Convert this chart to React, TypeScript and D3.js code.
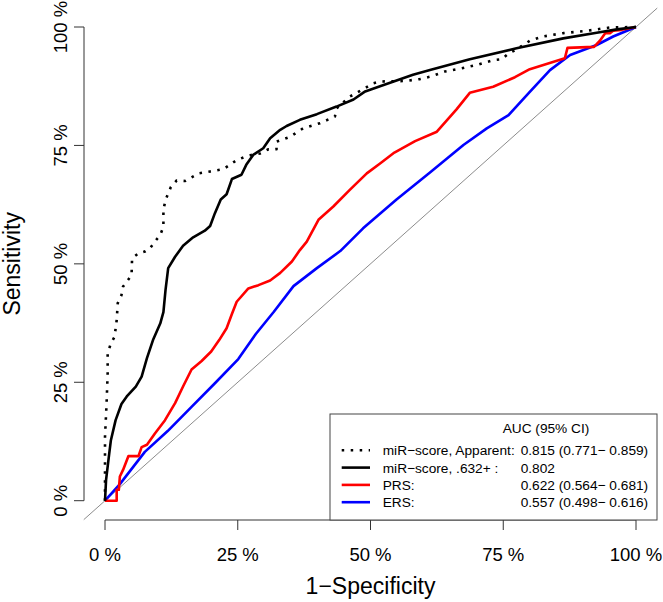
import React from "react";
import * as d3 from "d3";

// ---- Data ----
const apparentFpr = [0, 0, 0.003, 0.005, 0.005, 0.011, 0.018, 0.022, 0.024, 0.031, 0.034, 0.05, 0.051, 0.063, 0.075, 0.085, 0.094, 0.104, 0.11, 0.11, 0.114, 0.124, 0.135, 0.151, 0.176, 0.198, 0.223, 0.235, 0.248, 0.264, 0.279, 0.292, 0.308, 0.323, 0.323, 0.348, 0.373, 0.405, 0.433, 0.436, 0.449, 0.461, 0.477, 0.49, 0.505, 0.518, 0.565, 0.593, 0.612, 0.64, 0.672, 0.7, 0.731, 0.747, 0.76, 0.772, 0.785, 0.8, 0.825, 0.863, 0.907, 0.951, 1];
const apparentTpr = [0, 0.135, 0.206, 0.269, 0.311, 0.332, 0.346, 0.381, 0.417, 0.434, 0.452, 0.476, 0.512, 0.522, 0.526, 0.533, 0.547, 0.561, 0.578, 0.614, 0.635, 0.662, 0.676, 0.675, 0.691, 0.695, 0.7, 0.709, 0.719, 0.726, 0.731, 0.733, 0.742, 0.742, 0.758, 0.768, 0.786, 0.797, 0.811, 0.828, 0.841, 0.853, 0.863, 0.871, 0.881, 0.885, 0.886, 0.89, 0.895, 0.906, 0.913, 0.92, 0.93, 0.932, 0.944, 0.951, 0.96, 0.971, 0.98, 0.987, 0.992, 0.999, 1];

const boot632Fpr = [0, 0.002, 0.005, 0.008, 0.011, 0.02, 0.031, 0.041, 0.058, 0.069, 0.079, 0.091, 0.104, 0.11, 0.114, 0.119, 0.132, 0.147, 0.166, 0.188, 0.198, 0.207, 0.218, 0.229, 0.239, 0.257, 0.266, 0.279, 0.298, 0.311, 0.33, 0.342, 0.367, 0.399, 0.436, 0.468, 0.49, 0.518, 0.549, 0.58, 0.612, 0.687, 0.775, 0.863, 0.926, 0.964, 1];
const boot632Tpr = [0, 0.044, 0.072, 0.1, 0.127, 0.17, 0.204, 0.22, 0.241, 0.262, 0.301, 0.341, 0.374, 0.398, 0.445, 0.491, 0.515, 0.538, 0.556, 0.57, 0.58, 0.607, 0.636, 0.647, 0.679, 0.688, 0.709, 0.73, 0.744, 0.765, 0.783, 0.791, 0.804, 0.816, 0.832, 0.847, 0.864, 0.875, 0.887, 0.899, 0.909, 0.932, 0.955, 0.976, 0.988, 0.995, 1];

const prsFpr = [0, 0.022, 0.022, 0.026, 0.028, 0.034, 0.044, 0.063, 0.069, 0.079, 0.094, 0.113, 0.132, 0.147, 0.163, 0.182, 0.2, 0.215, 0.229, 0.239, 0.248, 0.27, 0.289, 0.311, 0.33, 0.352, 0.367, 0.38, 0.402, 0.43, 0.461, 0.493, 0.518, 0.545, 0.584, 0.625, 0.662, 0.687, 0.731, 0.772, 0.8, 0.866, 0.871, 0.921, 0.932, 0.942, 0.951, 0.957, 0.973, 1];
const prsTpr = [0, 0, 0.023, 0.023, 0.051, 0.065, 0.094, 0.094, 0.113, 0.118, 0.142, 0.17, 0.206, 0.241, 0.277, 0.295, 0.315, 0.339, 0.364, 0.394, 0.42, 0.448, 0.455, 0.465, 0.481, 0.505, 0.529, 0.547, 0.593, 0.621, 0.656, 0.691, 0.712, 0.735, 0.759, 0.779, 0.826, 0.861, 0.874, 0.894, 0.911, 0.934, 0.956, 0.958, 0.971, 0.987, 0.987, 0.992, 0.994, 1];

const ersFpr = [0, 0.028, 0.075, 0.118, 0.163, 0.207, 0.251, 0.284, 0.318, 0.355, 0.399, 0.443, 0.486, 0.549, 0.612, 0.675, 0.719, 0.76, 0.8, 0.838, 0.876, 0.926, 0.957, 1];
const ersTpr = [0, 0.035, 0.103, 0.147, 0.198, 0.248, 0.299, 0.352, 0.399, 0.453, 0.491, 0.527, 0.575, 0.636, 0.693, 0.751, 0.786, 0.814, 0.863, 0.909, 0.941, 0.962, 0.98, 1];

const tickValues = [0, 0.25, 0.5, 0.75, 1];
const tickLabels = ["0 %", "25 %", "50 %", "75 %", "100 %"];

const legendTitle = "AUC (95% CI)";
const legendLabels = ["miR\u2212score, Apparent:", "miR\u2212score, .632+ :", "PRS:", "ERS:"];
const legendValues = ["0.815 (0.771\u2212 0.859)", "0.802", "0.622 (0.564\u2212 0.681)", "0.557 (0.498\u2212 0.616)"];
const legendColors = ["#000000", "#000000", "#ff0000", "#0000ff"];
const legendDashes = ["2.5,6.5", "none", "none", "none"];

const FONT = "'Liberation Sans', Arial, Helvetica, sans-serif";

export default function App() {
  const x = d3.scaleLinear().domain([0, 1]).range([105, 636]);
  const y = d3.scaleLinear().domain([0, 1]).range([500.7, 27]);
  const line = d3
    .line<[number, number]>()
    .x((d) => x(d[0]))
    .y((d) => y(d[1]));
  const zip = (a: number[], b: number[]) => a.map((v, i) => [v, b[i]] as [number, number]);

  const series = [
    { pts: zip(ersFpr, ersTpr), color: "#0000ff", dash: "none" },
    { pts: zip(prsFpr, prsTpr), color: "#ff0000", dash: "none" },
    { pts: zip(boot632Fpr, boot632Tpr), color: "#000000", dash: "none" },
    { pts: zip(apparentFpr, apparentTpr), color: "#000000", dash: "2.5,6.5" },
  ];

  const axisY = 520;
  const axisX = 84;
  const legX0 = 330, legX1 = 657, legY0 = 414, legY1 = 520;

  return (
    <svg width={663} height={602} style={{ position: "absolute", left: 0, top: 0, background: "#fff" }} fontFamily={FONT}>
      <rect x={0} y={0} width={663} height={602} fill="#fff" />
      {/* diagonal */}
      <line x1={x(-0.04)} y1={y(-0.04)} x2={x(1.04)} y2={y(1.04)} stroke="#8c8c8c" strokeWidth={1} />
      {series.map((s, i) => (
        <path key={i} d={line(s.pts) || ""} fill="none" stroke={s.color} strokeWidth={2.6} strokeDasharray={s.dash} strokeLinejoin="round" />
      ))}
      {/* x axis */}
      <line x1={x(0)} x2={x(1)} y1={axisY} y2={axisY} stroke="#333" strokeWidth={1} />
      {tickValues.map((t, i) => (
        <g key={"xt" + i}>
          <line x1={x(t)} x2={x(t)} y1={axisY} y2={axisY + 10} stroke="#333" strokeWidth={1} />
          <text x={x(t)} y={561} fontSize={18.5} textAnchor="middle" fill="#000">{tickLabels[i]}</text>
        </g>
      ))}
      {/* y axis */}
      <line x1={axisX} x2={axisX} y1={y(0)} y2={y(1)} stroke="#333" strokeWidth={1} />
      {tickValues.map((t, i) => (
        <g key={"yt" + i}>
          <line x1={axisX - 10} x2={axisX} y1={y(t)} y2={y(t)} stroke="#333" strokeWidth={1} />
          <text transform={`translate(67,${y(t)}) rotate(-90)`} fontSize={18.5} textAnchor="middle" fill="#000">{tickLabels[i]}</text>
        </g>
      ))}
      <text x={x(0.5)} y={594} fontSize={23} textAnchor="middle" fill="#000">1{"\u2212"}Specificity</text>
      <text transform={`translate(20,${(y(0) + y(1)) / 2}) rotate(-90)`} fontSize={23} textAnchor="middle" fill="#000">Sensitivity</text>
      {/* legend */}
      <rect x={legX0} y={legY0} width={legX1 - legX0} height={legY1 - legY0} fill="#fff" stroke="#444" strokeWidth={1} />
      <text x={546} y={432.5} fontSize={13.7} textAnchor="middle" fill="#000">{legendTitle}</text>
      {legendLabels.map((lab, i) => {
        const ry = 450.3 + i * 17.3;
        return (
          <g key={"lg" + i}>
            <line x1={341.7} x2={370} y1={ry} y2={ry} stroke={legendColors[i]} strokeWidth={2.6} strokeDasharray={legendDashes[i]} />
            <text x={382.7} y={ry + 5} fontSize={13.7} fill="#000">{lab}</text>
            <text x={520.7} y={ry + 5} fontSize={13.7} fill="#000">{legendValues[i]}</text>
          </g>
        );
      })}
    </svg>
  );
}
